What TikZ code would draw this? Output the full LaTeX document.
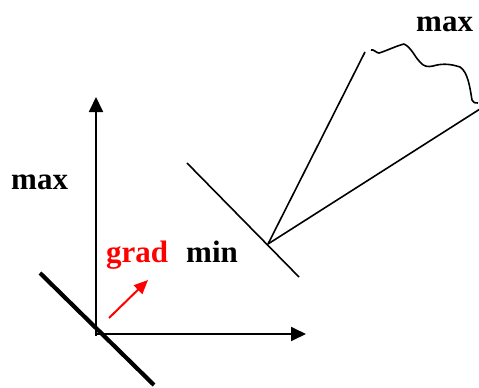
\documentclass[tikz,border=0pt]{standalone}
\usepackage{fontspec}
\setmainfont{Liberation Serif}
\usetikzlibrary{arrows.meta}
\begin{document}
\begin{tikzpicture}[x=1pt,y=-1pt,
  lbl/.style={font=\fontsize{31}{31}\selectfont\bfseries, anchor=base west, inner sep=0pt},
  thin/.style={line width=1.6pt},
  axis/.style={line width=1.8pt, -{Triangle[length=15pt,width=14pt]}}]
\useasboundingbox (0,0) rectangle (479,388);
% axes
\coordinate (O) at (96,334);
\coordinate (Ytop) at (96,97);
\coordinate (Xend) at (306,334);
\draw[axis] (96,336) -- (Ytop);
\draw[axis] (O) -- (Xend);
% thick line
\coordinate (T1) at (40,273);
\coordinate (T2) at (154,385);
\draw[line width=4.2pt] (T1) -- (T2);
% red gradient arrow
\coordinate (G1) at (109,318);
\coordinate (G2) at (148,280);
\draw[red, line width=2pt, -{Triangle[length=14pt,width=12pt]}] (G1) -- (G2);
% labels
\node[lbl] (maxL) at (11,189) {max};
\node[lbl, text=red] (grad) at (106,262) {grad};
\node[lbl] (minL) at (186,262) {min};
\node[lbl] (maxT) at (416,31) {max};
% right figure
\coordinate (V) at (268,244);
\coordinate (L1) at (187,163);
\coordinate (L2) at (299,277);
\coordinate (A) at (365,52);
\coordinate (B) at (480,109);
\draw[thin] (L1) -- (L2);
\draw[thin] (V) -- (A);
\draw[thin] (V) -- (B);
% wavy curve
\coordinate (W0) at (371,50);
\coordinate (W9) at (478,103);
\draw[thin, line join=round] (W0) .. controls (374,49) and (376,53) .. (379,53)
  .. controls (386,51) and (396,46) .. (404,44)
  .. controls (412,48) and (414,56) .. (420,62)
  .. controls (424,67) and (428,67) .. (433,66)
  .. controls (440,64) and (448,63) .. (460,67)
  .. controls (468,72) and (470,88) .. (472,100)
  .. controls (473,103) and (475,103) .. (W9);
\end{tikzpicture}
\end{document}
